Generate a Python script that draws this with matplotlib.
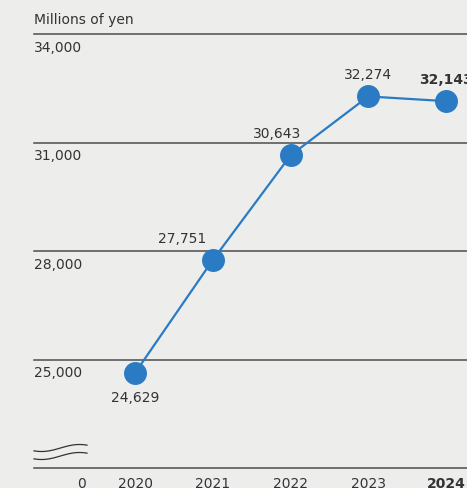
import numpy as np
import matplotlib.pyplot as plt

years = ["2020", "2021", "2022", "2023", "2024"]
values = [24629, 27751, 30643, 32274, 32143]
value_labels = ["24,629", "27,751", "30,643", "32,274", "32,143"]
y_ticks = [25000, 28000, 31000, 34000]
y_tick_labels = ["25,000", "28,000", "31,000", "34,000"]
y_floor = 22000

bg = "#edeeec"
blue = "#2a7bc4"
txt = "#333333"
grid = "#4d4d4d"

W, H = 467, 489
fig = plt.figure(figsize=(W / 100, H / 100), dpi=100, facecolor=bg)
ax = fig.add_axes([34 / W, (H - 469) / H, (W - 34) / W, (469 - 35) / H])
ax.set_facecolor(bg)
for s in ax.spines.values():
    s.set_visible(False)
ax.set_xticks([])
ax.set_yticks([])
ax.set_xlim(-1.30, 4.27)
ax.set_ylim(y_floor, y_ticks[-1])

x = np.arange(len(years))

# grid lines + labels below each line
for v, lab in zip(y_ticks, y_tick_labels):
    ax.axhline(v, color=grid, lw=1.1, clip_on=False)
    ax.annotate(lab, (0, v), xycoords=("axes fraction", "data"),
                xytext=(0, -4), textcoords="offset points",
                ha="left", va="top", fontsize=10, color=txt)
ax.axhline(y_floor, color=grid, lw=1.1, clip_on=False)

# unit label
fig.text(34 / W, 1 - 20 / H, "Millions of yen", ha="left", va="center",
         fontsize=10, color=txt)

# axis break symbol
t = np.linspace(0, 1, 100)
for base in (449, 457):
    bx = 34 + t * 53
    by = base + 3.5 * np.cos(np.pi * (t * 1.4 - 0.2))
    fig.add_artist(plt.Line2D(bx / W, 1 - by / H, color="#333333", lw=0.9))

# line and markers
ax.plot(x, values, color=blue, lw=1.6, marker="o", markersize=15.5,
        markerfacecolor=blue, markeredgecolor=blue, clip_on=False, zorder=3)

# value labels
offsets = [(0, -12, "top"), (-22, 11, "bottom"), (-10, 11, "bottom"),
           (0, 11, "bottom"), (0, 11, "bottom")]
for i, (xi, v, lab) in enumerate(zip(x, values, value_labels)):
    dx, dy, va = offsets[i]
    ax.annotate(lab, (xi, v), xytext=(dx, dy), textcoords="offset points",
                ha="center", va=va, fontsize=10, color=txt,
                fontweight="bold" if i == len(x) - 1 else "normal",
                annotation_clip=False)

# x labels
for i, (xi, yr) in enumerate(zip(x, years)):
    ax.annotate(yr, (xi, y_floor), xytext=(0, -6), textcoords="offset points",
                ha="center", va="top", fontsize=10, color=txt,
                fontweight="bold" if i == len(x) - 1 else "normal",
                annotation_clip=False)
ax.annotate("0", (-0.695, y_floor), xytext=(0, -6), textcoords="offset points",
            ha="center", va="top", fontsize=10, color=txt, annotation_clip=False)

fig.savefig("out.png", dpi=100, facecolor=bg)
